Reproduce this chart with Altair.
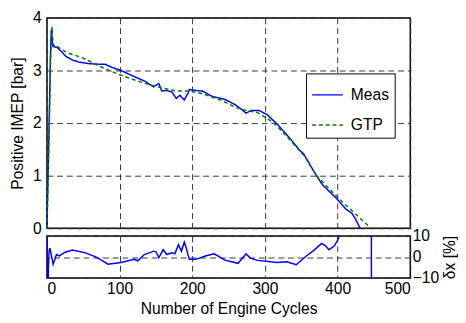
import altair as alt
import pandas as pd

# ---- data ----
meas_x = [0, 3, 5, 6, 7, 8, 10, 14, 20, 26, 35, 44, 58, 71, 80, 89, 102, 116, 134, 147, 150, 154,
          158, 165, 172, 178, 183, 186, 189, 192, 194, 196, 205, 214, 227, 245, 259, 268, 274, 281,
          292, 303, 317, 335, 348, 353, 370, 379, 399, 411, 420, 424, 431]
meas_y = [0.0, 2.0, 3.4, 3.78, 3.6, 3.46, 3.45, 3.44, 3.36, 3.27, 3.2, 3.16, 3.13, 3.12, 3.12, 3.06,
          3.0, 2.91, 2.80, 2.69, 2.72, 2.75, 2.61, 2.62, 2.59, 2.47, 2.53, 2.48, 2.44, 2.52, 2.56, 2.64,
          2.62, 2.61, 2.51, 2.45, 2.35, 2.26, 2.19, 2.24, 2.24, 2.16, 1.98, 1.70, 1.48, 1.42, 1.02, 0.83,
          0.56, 0.37, 0.28, 0.19, 0.0]

gtp_x = [0, 3, 5, 7, 8, 9, 11, 20, 30, 49, 71, 98, 125, 151, 178, 196, 214, 241, 259, 272, 290, 312,
         335, 355, 370, 385, 402, 424, 446]
gtp_y = [0.0, 1.8, 3.2, 3.83, 3.6, 3.47, 3.49, 3.40, 3.33, 3.24, 3.09, 2.93, 2.80, 2.69, 2.61, 2.61,
         2.56, 2.43, 2.30, 2.25, 2.20, 2.01, 1.67, 1.36, 1.02, 0.80, 0.56, 0.28, 0.0]

dx_x = [0, 1, 2, 3, 4, 6, 8.5, 11, 13, 17, 25, 35, 53, 67, 75, 84, 102, 120, 125, 134, 147, 150, 154,
        160, 165, 172, 176, 181, 185, 189, 192, 194, 196, 205, 218, 230, 235, 245, 263, 274, 280, 290,
        317, 330, 343, 357, 366, 378, 383, 388, 395, 400, 402, 405, 420, 440, 446, 447]
dx_y = [20, -40, -5, 3, 4.3, 1, -3.4, -1, 1.2, 0.5, 2.3, 3.3, 2.0, 0.1, -1.5, -3.4, -2.6, -1.1, -1.8,
        1.2, 2.8, 2.5, -0.3, 3.5, 1.2, 2.0, 1.5, 5.9, 2.8, 7.1, 4, 1.2, -1.1, -1.1, 0.5, 1.5, 0.5, -1.5,
        -3.0, 1.5, -0.5, -1.6, -2.6, -2.3, -3.7, 0.5, 2.8, 6.5, 5.5, 3.5, 5.1, 8, 10, 14, 30, 80, 500,
        -500]

series_names = ["Meas", "GTP"]
series_colors = ["#0000ff", "#008000"]
x_ticks = [0, 100, 200, 300, 400, 500]
y_ticks = [0, 1, 2, 3, 4]
dx_ticks = [-10, 0, 10]

FONT = "Liberation Sans"

df_top = pd.concat([
    pd.DataFrame({"cycle": meas_x, "imep": meas_y, "series": "Meas"}),
    pd.DataFrame({"cycle": gtp_x, "imep": gtp_y, "series": "GTP"}),
])
df_bot = pd.DataFrame({"cycle": dx_x, "dx": dx_y})

grid_kw = dict(grid=True, gridDash=[6, 4], gridColor="#333333", gridWidth=1, gridOpacity=1)

x_scale = alt.Scale(domain=[0, 500], nice=False, zero=False)

legend = alt.Legend(
    title=None, orient="none", legendX=266, legendY=57,
    fillColor="white", strokeColor="black", padding=5,
    symbolType="stroke", symbolSize=1000, symbolStrokeWidth=1.5,
    labelFont=FONT, labelFontSize=16, labelColor="black", labelOffset=7, rowPadding=6,
)

base = alt.Chart(df_top).encode(
    x=alt.X("cycle:Q", scale=x_scale,
            axis=alt.Axis(values=x_ticks, labels=False, ticks=False, domain=False, title=None, **grid_kw)),
    y=alt.Y("imep:Q", scale=alt.Scale(domain=[0, 4], nice=False),
            axis=alt.Axis(values=y_ticks, title="Positive IMEP [bar]", ticks=False, domain=False,
                          labelPadding=6, titlePadding=7, **grid_kw)),
    color=alt.Color("series:N", scale=alt.Scale(domain=series_names, range=series_colors), legend=legend),
    strokeDash=alt.StrokeDash("series:N",
                              scale=alt.Scale(domain=series_names, range=[[1, 0], [4, 3]]),
                              legend=legend),
)

meas_line = base.transform_filter(alt.datum.series == "Meas").mark_line(strokeWidth=1.5)
gtp_line = base.transform_filter(alt.datum.series == "GTP").mark_line(strokeWidth=1.5)

top = alt.layer(meas_line, gtp_line).properties(width=373, height=216)

bottom = alt.Chart(df_bot).mark_line(color="#0000ff", strokeWidth=1.5, clip=True).encode(
    x=alt.X("cycle:Q", scale=x_scale,
            axis=alt.Axis(values=x_ticks, title="Number of Engine Cycles", ticks=False, domain=False,
                          labelPadding=3, titlePadding=4, **grid_kw)),
    y=alt.Y("dx:Q", scale=alt.Scale(domain=[-10, 10], nice=False),
            axis=alt.Axis(orient="right", values=dx_ticks, title="δx [%]", titleAngle=270,
                          titleBaseline="top", ticks=False, domain=False, labelPadding=2,
                          titlePadding=3, **grid_kw)),
).properties(width=373, height=43)

chart = alt.vconcat(top, bottom, spacing=8, bounds="flush").properties(
    padding={"left": 1, "top": -3, "right": 0, "bottom": 0}
).configure_view(
    stroke="black", strokeWidth=1.5
).configure_axis(
    labelFont=FONT, labelFontSize=16, labelColor="black",
    titleFont=FONT, titleFontSize=16, titleColor="black", titleFontWeight="normal",
)

chart.save("out.html", embed_options={"renderer": "svg", "actions": False})
